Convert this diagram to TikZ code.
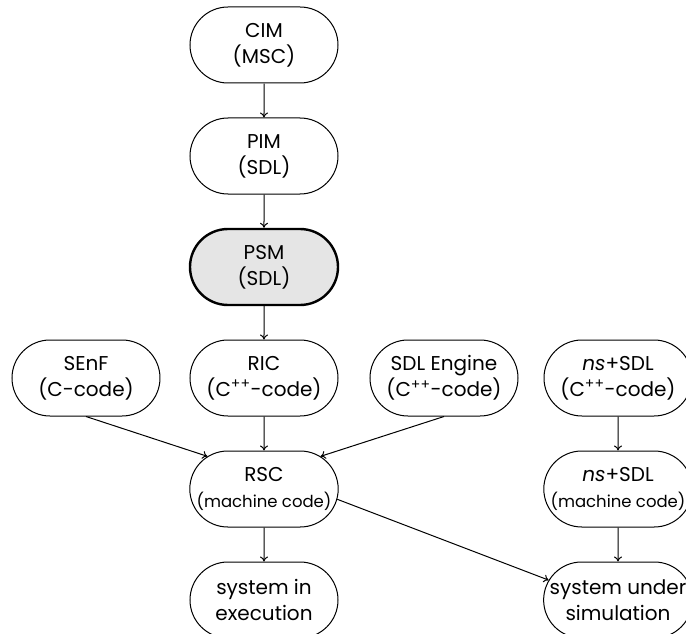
\documentclass[tikz,border=0pt]{standalone}
\usepackage{fontspec}
\setmainfont{Poppins}
\usetikzlibrary{shapes, arrows, arrows.meta, positioning}

\begin{document}
\begin{tikzpicture}[node distance=111pt, auto]
    \tikzstyle{block} = [rounded rectangle, draw, line width=1pt, minimum width=148pt, minimum height=76pt, inner sep=0pt, align=center, font=\fontsize{20}{26}\selectfont]
    \tikzstyle{model} = [block, fill=gray!20, line width=2.4pt]
    \tikzstyle{arrow} = [line width=1pt,->,>={To[length=5pt,width=8pt]}]
    \newcommand{\mcode}{\fontsize{16.5}{21}\selectfont(machine code)}

    \useasboundingbox (-264pt,45pt) rectangle (422pt,-589pt);

    \node [block] (cim) {CIM\\(MSC)};
    \node [block, below of=cim] (pim) {PIM\\(SDL)};
    \node [model, below of=pim] (psm) {PSM\\(SDL)};
    \node [block, below of=psm] (ric) {RIC\\(C\textsuperscript{++}-code)};
    \node [block, left of=ric, node distance=178pt] (senf) {SEnF\\(C-code)};
    \node [block, right of=ric, node distance=180pt] (engine) {SDL Engine\\(C\textsuperscript{++}-code)};
    \node [block, right of=engine, node distance=174pt] (nssrc) {\textit{ns}+SDL\\(C\textsuperscript{++}-code)};
    \node [block, below of=ric] (rsc) {RSC\\\mcode};
    \node [block, below of=nssrc] (nsmc) {\textit{ns}+SDL\\\mcode};
    \node [block, below of=rsc] (exec) {system in\\execution};
    \node [block, below of=nsmc] (sim) {system under\\simulation};

    \draw [arrow] (cim) -- (pim);
    \draw [arrow] (pim) -- (psm);
    \draw [arrow] (psm) -- (ric);
    \draw [arrow] (ric) -- (rsc);
    \draw [arrow] (senf.south) -- (rsc.150);
    \draw [arrow] (engine.south) -- (rsc.30);
    \draw [arrow] (nssrc) -- (nsmc);
    \draw [arrow] (rsc) -- (exec);
    \draw [arrow] (rsc.-8) -- (sim.164);
    \draw [arrow] (nsmc) -- (sim);
\end{tikzpicture}
\end{document}
